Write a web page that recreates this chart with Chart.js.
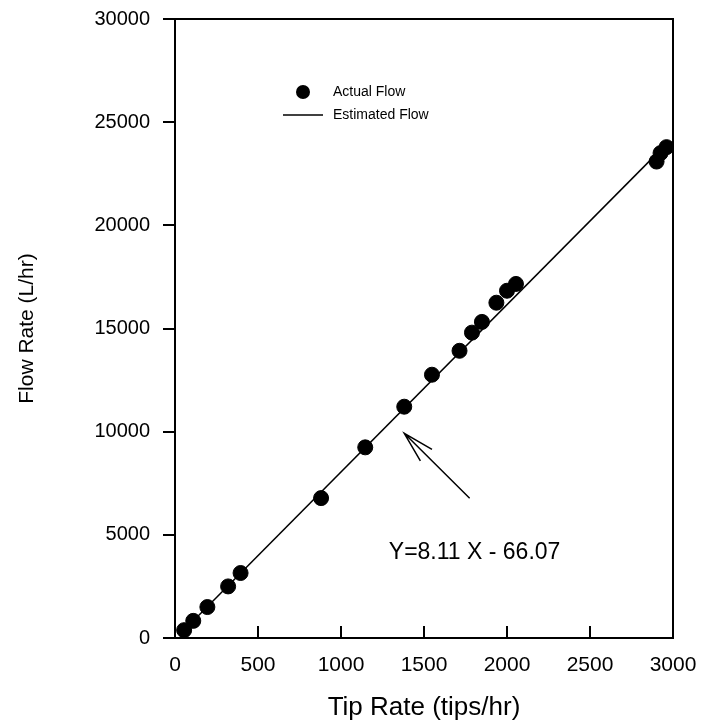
<!DOCTYPE html>
<html lang="en">
<head>
    <meta charset="UTF-8">
    <title>Flow Rate vs Tip Rate</title>
    <script src="https://cdn.jsdelivr.net/npm/chart.js"></script>
    <style>
        body {
            margin: 0;
            background: #fff;
        }
        #wrap {
            width: 701px;
            height: 726px;
        }
    </style>
</head>
<body>
    <div id="wrap">
        <canvas id="myChart" width="701" height="726"></canvas>
    </div>

    <script>
        // measured points (tips/hr, L/hr)
        var tipRate = [55, 110, 195, 320, 395, 880, 1146, 1381, 1548, 1714, 1789, 1849, 1936, 2000, 2054, 2901, 2925, 2961];
        var flowRate = [380, 830, 1500, 2500, 3150, 6780, 9240, 11210, 12760, 13920, 14800, 15320, 16250, 16830, 17160, 23090, 23500, 23790];

        // fitted line end points
        var estX = [54, 2961];
        var estY = [372, 23947];

        var legendLabels = ['Actual Flow', 'Estimated Flow'];
        var equationText = 'Y=8.11 X - 66.07';
        // arrow: tail -> tip, in data units
        var arrowFrom = { x: 1775, y: 6770 };
        var arrowTo = { x: 1381, y: 9920 };
        var equationPos = { x: 1288, y: 4120 };

        var xTicks = [0, 500, 1000, 1500, 2000, 2500, 3000];
        var yTicks = [0, 5000, 10000, 15000, 20000, 25000, 30000];

        var FONT = 'Arial, "Liberation Sans", sans-serif';

        var extras = {
            id: 'extras',
            afterDraw: function (chart) {
                var ctx = chart.ctx;
                var a = chart.chartArea;
                var xs = chart.scales.x, ys = chart.scales.y;
                ctx.save();
                ctx.strokeStyle = '#000';
                ctx.fillStyle = '#000';

                // top and right frame
                ctx.lineWidth = 2;
                ctx.beginPath();
                ctx.moveTo(a.left, a.top);
                ctx.lineTo(a.right, a.top);
                ctx.lineTo(a.right, a.bottom + 1);
                ctx.stroke();

                // x ticks pointing inward
                xTicks.forEach(function (v) {
                    if (v === 0 || v === 3000) return;
                    var px = Math.round(xs.getPixelForValue(v));
                    ctx.beginPath();
                    ctx.moveTo(px, a.bottom);
                    ctx.lineTo(px, a.bottom - 12);
                    ctx.stroke();
                });

                // legend
                var lx = xs.getPixelForValue(0) + 108;
                ctx.beginPath();
                ctx.arc(lx + 20, 92, 7, 0, Math.PI * 2);
                ctx.fill();
                ctx.lineWidth = 1.5;
                ctx.beginPath();
                ctx.moveTo(lx, 115);
                ctx.lineTo(lx + 40, 115);
                ctx.stroke();
                ctx.font = '14px ' + FONT;
                ctx.textBaseline = 'middle';
                ctx.textAlign = 'left';
                ctx.fillText(legendLabels[0], lx + 50, 92);
                ctx.fillText(legendLabels[1], lx + 50, 115);

                // equation
                ctx.font = '23px ' + FONT;
                ctx.fillText(equationText, xs.getPixelForValue(equationPos.x), ys.getPixelForValue(equationPos.y));

                // arrow
                var x1 = xs.getPixelForValue(arrowFrom.x), y1 = ys.getPixelForValue(arrowFrom.y);
                var x2 = xs.getPixelForValue(arrowTo.x), y2 = ys.getPixelForValue(arrowTo.y);
                var ang = Math.atan2(y1 - y2, x1 - x2);
                ctx.lineWidth = 1.5;
                ctx.beginPath();
                ctx.moveTo(x1, y1);
                ctx.lineTo(x2, y2);
                ctx.moveTo(x2 + 32 * Math.cos(ang - 0.26), y2 + 32 * Math.sin(ang - 0.26));
                ctx.lineTo(x2, y2);
                ctx.lineTo(x2 + 32 * Math.cos(ang + 0.26), y2 + 32 * Math.sin(ang + 0.26));
                ctx.stroke();
                ctx.restore();
            }
        };

        var plain = function (v) { return String(v); };

        var ctx = document.getElementById('myChart').getContext('2d');
        var myChart = new Chart(ctx, {
            type: 'scatter',
            data: {
                datasets: [{
                    label: legendLabels[1],
                    data: estX.map(function (x, i) { return { x: x, y: estY[i] }; }),
                    showLine: true,
                    borderColor: '#000',
                    borderWidth: 1.5,
                    pointRadius: 0,
                    order: 2
                },
                {
                    label: legendLabels[0],
                    data: tipRate.map(function (x, i) { return { x: x, y: flowRate[i] }; }),
                    backgroundColor: '#000',
                    borderColor: '#000',
                    pointRadius: 7.5,
                    order: 1
                }]
            },
            options: {
                responsive: false,
                animation: false,
                layout: {
                    padding: { left: 0, right: 28, top: 19, bottom: 0 }
                },
                plugins: {
                    legend: { display: false },
                    tooltip: { enabled: false }
                },
                scales: {
                    x: {
                        type: 'linear',
                        min: 0,
                        max: 3000,
                        afterFit: function (s) {
                            s.height = 88;
                            s.paddingLeft = 0; s.paddingRight = 0;
                        },
                        afterBuildTicks: function (s) { s.ticks = xTicks.map(function (v) { return { value: v }; }); },
                        border: { display: true, color: '#000', width: 2 },
                        grid: { display: true, drawOnChartArea: false, drawTicks: false, color: '#000' },
                        ticks: {
                            padding: 15,
                            color: '#000',
                            font: { family: FONT, size: 21 },
                            maxRotation: 0,
                            callback: plain
                        },
                        title: {
                            display: true,
                            text: 'Tip Rate (tips/hr)',
                            color: '#000',
                            font: { family: FONT, size: 26 },
                            padding: { top: 0, bottom: 3 }
                        }
                    },
                    y: {
                        type: 'linear',
                        min: 0,
                        max: 30000,
                        afterFit: function (s) {
                            s.width = 175;
                            s.paddingTop = 0; s.paddingBottom = 0;
                        },
                        afterBuildTicks: function (s) { s.ticks = yTicks.map(function (v) { return { value: v }; }); },
                        border: { display: true, color: '#000', width: 2 },
                        grid: { display: true, drawOnChartArea: false, drawTicks: true, tickLength: 12, lineWidth: 2, color: '#000' },
                        ticks: {
                            padding: 13,
                            color: '#000',
                            font: { family: FONT, size: 20 },
                            callback: plain
                        },
                        title: {
                            display: true,
                            text: 'Flow Rate (L/hr)',
                            color: '#000',
                            font: { family: FONT, size: 21 },
                            padding: { top: 15, bottom: 0 }
                        }
                    }
                }
            },
            plugins: [extras]
        });
    </script>
</body>
</html>
